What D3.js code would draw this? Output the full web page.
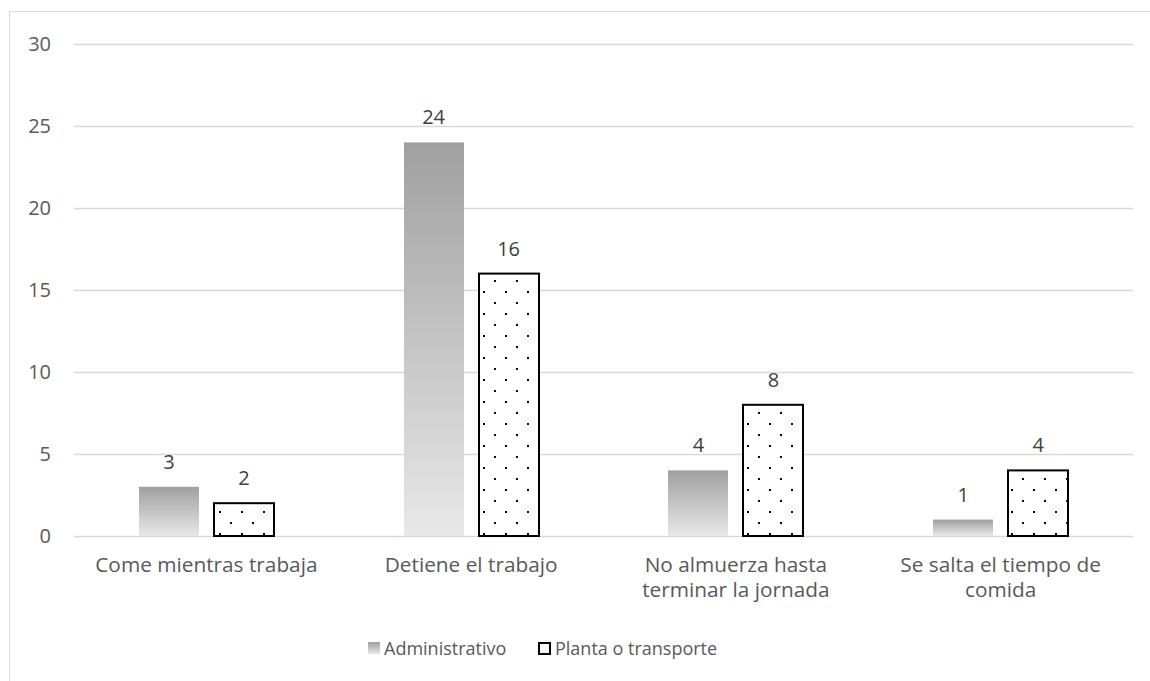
<!DOCTYPE html>
<html>
<head>
<meta charset="utf-8">
<script src="https://cdn.jsdelivr.net/npm/d3@7"></script>
<style>
  body { margin: 0; background: #fff; }
  svg text { font-family: "Open Sans", sans-serif; }
</style>
</head>
<body>
<svg id="chart" width="1150" height="681"></svg>
<script>
var categories = [["Come mientras trabaja"], ["Detiene el trabajo"], ["No almuerza hasta", "terminar la jornada"], ["Se salta el tiempo de", "comida"]];
var seriesNames = ["Administrativo", "Planta o transporte"];
var administrativo = [3, 24, 4, 1];
var planta = [2, 16, 8, 4];
var yTicks = [0, 5, 10, 15, 20, 25, 30];

var svg = d3.select("#chart");
var plotLeft = 74, plotRight = 1133, plotTop = 44, plotBottom = 536;
var barWidth = 60, barGap = 15;

var defs = svg.append("defs");
var grad = defs.append("linearGradient")
  .attr("id", "grayGrad")
  .attr("x1", 0).attr("y1", 0).attr("x2", 0).attr("y2", 1);
grad.append("stop").attr("offset", "0%").attr("stop-color", "#a0a0a0");
grad.append("stop").attr("offset", "100%").attr("stop-color", "#e8e8e8");

// dotted fill: staggered 2px dots
var pat = defs.append("pattern")
  .attr("id", "dots")
  .attr("patternUnits", "userSpaceOnUse")
  .attr("x", 21).attr("y", 5)
  .attr("width", 22).attr("height", 22);
pat.append("rect").attr("width", 22).attr("height", 22).attr("fill", "#fff");
pat.append("rect").attr("x", 0).attr("y", 0).attr("width", 2).attr("height", 2).attr("fill", "#000");
pat.append("rect").attr("x", 11).attr("y", 11).attr("width", 2).attr("height", 2).attr("fill", "#000");

// chart border
svg.append("rect")
  .attr("x", 9.5).attr("y", 11.5)
  .attr("width", 1160).attr("height", 700)
  .attr("fill", "none")
  .attr("stroke", "#d9d9d9");

var y = d3.scaleLinear().domain([0, 30]).range([plotBottom, plotTop]);
var x = d3.scaleBand().domain(d3.range(categories.length)).range([plotLeft, plotRight]);

// gridlines
svg.append("g").selectAll("line").data(yTicks).enter()
  .append("line")
  .attr("x1", plotLeft).attr("x2", plotRight)
  .attr("y1", function(d) { return Math.round(y(d)) + 0.5; })
  .attr("y2", function(d) { return Math.round(y(d)) + 0.5; })
  .attr("stroke", "#d9d9d9")
  .attr("stroke-width", 1.3);

// y tick labels
var yAxis = d3.axisLeft(y).tickValues(yTicks).tickSize(0).tickPadding(23);
var ga = svg.append("g").attr("transform", "translate(" + plotLeft + ",0)").call(yAxis);
ga.select(".domain").remove();
ga.selectAll("text").attr("fill", "#595959").style("font-size", "20px").style("font-family", "Open Sans, sans-serif");

function cx(i) { return x(i) + x.bandwidth() / 2; }

// Administrativo bars
svg.append("g").selectAll("rect").data(administrativo).enter()
  .append("rect")
  .attr("x", function(d, i) { return Math.round(cx(i) - barGap / 2 - barWidth); })
  .attr("y", function(d) { return y(d); })
  .attr("width", barWidth)
  .attr("height", function(d) { return plotBottom - y(d); })
  .attr("fill", "url(#grayGrad)");

// Planta bars
svg.append("g").selectAll("rect").data(planta).enter()
  .append("rect")
  .attr("x", function(d, i) { return Math.round(cx(i) + barGap / 2); })
  .attr("y", function(d) { return y(d); })
  .attr("width", barWidth)
  .attr("height", function(d) { return plotBottom - y(d); })
  .attr("fill", "url(#dots)")
  .attr("stroke", "#000")
  .attr("stroke-width", 2);

// value labels
svg.append("g").selectAll("text").data(administrativo).enter()
  .append("text")
  .attr("x", function(d, i) { return cx(i) - barGap / 2 - barWidth / 2; })
  .attr("y", function(d) { return y(d) - 18; })
  .attr("text-anchor", "middle")
  .attr("fill", "#404040")
  .style("font-size", "20px")
  .text(function(d) { return d; });

svg.append("g").selectAll("text").data(planta).enter()
  .append("text")
  .attr("x", function(d, i) { return cx(i) + barGap / 2 + barWidth / 2; })
  .attr("y", function(d) { return y(d) - 18; })
  .attr("text-anchor", "middle")
  .attr("fill", "#404040")
  .style("font-size", "20px")
  .text(function(d) { return d; });

// category labels
var cat = svg.append("g").selectAll("text").data(categories).enter()
  .append("text")
  .attr("x", function(d, i) { return cx(i); })
  .attr("y", 572)
  .attr("text-anchor", "middle")
  .attr("fill", "#595959")
  .style("font-size", "20.8px");
cat.selectAll("tspan").data(function(d) { return d; }).enter()
  .append("tspan")
  .attr("x", function() { return d3.select(this.parentNode).attr("x"); })
  .attr("dy", function(d, i) { return i === 0 ? 0 : 25; })
  .text(function(d) { return d; });

// legend
var legend = svg.append("g").attr("transform", "translate(0,648)");
legend.append("rect").attr("x", 368).attr("y", -6).attr("width", 12).attr("height", 12).attr("fill", "url(#grayGrad)");
legend.append("text").attr("x", 384).attr("y", 6.5).attr("fill", "#595959").style("font-size", "18px").text(seriesNames[0]);
legend.append("rect").attr("x", 539).attr("y", -5).attr("width", 11).attr("height", 11).attr("fill", "#fff").attr("stroke", "#000").attr("stroke-width", 2);
legend.append("text").attr("x", 555).attr("y", 6.5).attr("fill", "#595959").style("font-size", "18px").text(seriesNames[1]);
</script>
</body>
</html>
